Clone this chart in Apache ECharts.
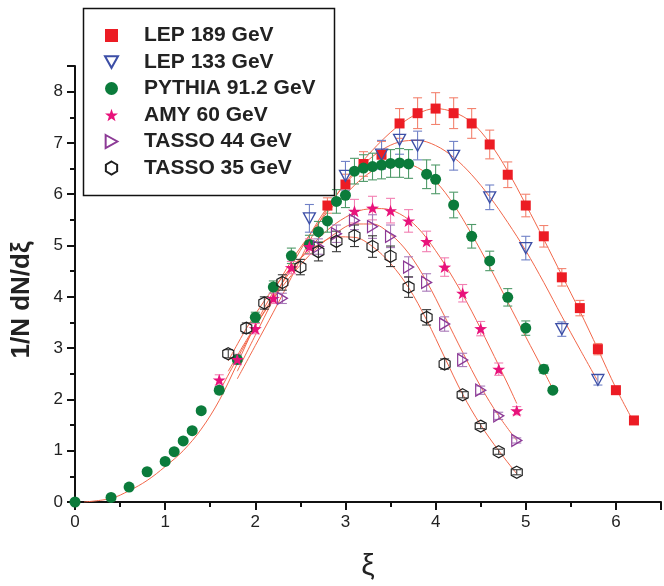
<!DOCTYPE html>
<html>
<head>
<meta charset="utf-8">
<script src="https://cdn.jsdelivr.net/npm/echarts@6/dist/echarts.min.js"></script>
<style>
html,body{margin:0;padding:0;background:#fff;}
#chart{width:664px;height:586px;}
</style>
</head>
<body>
<div id="chart"></div>
<script>
// ---------- data ----------
const seriesNames = ['LEP 189 GeV','LEP 133 GeV','PYTHIA 91.2 GeV','AMY 60 GeV','TASSO 44 GeV','TASSO 35 GeV'];

const lep189X   = [2.8,3.0,3.2,3.4,3.6,3.8,4.0,4.2,4.4,4.6,4.8,5.0,5.2,5.4,5.6,5.8,6.0,6.2];
const lep189Y   = [5.78,6.19,6.59,6.77,7.38,7.58,7.67,7.58,7.38,6.97,6.38,5.78,5.18,4.38,3.78,2.98,2.18,1.59];
const lep189Err = [0.15,0.2,0.24,0.26,0.29,0.3,0.31,0.3,0.29,0.28,0.25,0.22,0.21,0.17,0.15,0.11,0.06,0.03];

const lep133X   = [2.6,3.0,3.4,3.6,3.8,4.2,4.6,5.0,5.4,5.8];
const lep133Y   = [5.53,6.36,6.77,7.06,6.95,6.75,5.94,4.95,3.37,2.38];
const lep133Err = [0.27,0.28,0.28,0.28,0.28,0.28,0.24,0.23,0.14,0.1];

const pythiaX   = [0,0.4,0.6,0.8,1.0,1.1,1.2,1.3,1.4,1.6,1.8,2.0,2.2,2.4,2.6,2.7,2.8,2.9,3.0,3.1,3.2,3.3,3.4,3.5,3.6,3.7,3.9,4.0,4.2,4.4,4.6,4.8,5.0,5.2,5.3];
const pythiaY   = [0.0,0.09,0.29,0.59,0.79,0.98,1.19,1.39,1.78,2.18,2.78,3.6,4.19,4.8,5.02,5.27,5.48,5.86,5.98,6.45,6.51,6.54,6.57,6.6,6.61,6.59,6.39,6.29,5.79,5.18,4.7,3.99,3.39,2.59,2.18];
const pythiaErr = [0,0.02,0.02,0.03,0.03,0.03,0.04,0.04,0.05,0.07,0.09,0.1,0.12,0.15,0.18,0.2,0.22,0.23,0.24,0.25,0.26,0.26,0.27,0.27,0.28,0.28,0.28,0.28,0.25,0.23,0.19,0.17,0.14,0.08,0.05];

const amyX   = [1.6,1.8,2.0,2.2,2.4,2.6,3.1,3.3,3.5,3.7,3.9,4.1,4.3,4.5,4.7,4.9];
const amyY   = [2.38,2.78,3.38,3.97,4.57,4.98,5.67,5.73,5.68,5.48,5.08,4.58,4.07,3.38,2.59,1.78];
const amyErr = [0.1,0.1,0.1,0.1,0.12,0.15,0.23,0.23,0.24,0.22,0.2,0.18,0.17,0.14,0.12,0.08];

const tasso44X   = [2.3,2.7,2.9,3.1,3.3,3.5,3.7,3.9,4.1,4.3,4.5,4.7,4.9];
const tasso44Y   = [3.97,4.98,5.23,5.49,5.37,5.18,4.58,4.28,3.47,2.77,2.18,1.68,1.2];
const tasso44Err = [0.1,0.15,0.17,0.18,0.23,0.22,0.2,0.17,0.14,0.13,0.08,0.07,0.05];

const tasso35X   = [1.7,1.9,2.1,2.3,2.5,2.7,2.9,3.1,3.3,3.5,3.7,3.9,4.1,4.3,4.5,4.7,4.9];
const tasso35Y   = [2.89,3.39,3.88,4.28,4.58,4.88,5.08,5.19,4.98,4.79,4.19,3.6,2.69,2.09,1.48,0.98,0.58];
const tasso35Err = [0.08,0.1,0.12,0.15,0.15,0.18,0.2,0.21,0.21,0.2,0.2,0.15,0.1,0.06,0.05,0.05,0.05];

// fitted curves, values
const lep189FitX = [1.8,2.0,2.2,2.4,2.6,2.8,3.0,3.2,3.4,3.6,3.8,4.0,4.2,4.4,4.6,4.8,5.0,5.2,5.4,5.6,5.8,6.0,6.2];
const lep189FitY = [2.4,3.05,3.7,4.38,5.08,5.72,6.22,6.66,7.04,7.35,7.57,7.67,7.6,7.4,7.0,6.45,5.8,5.12,4.42,3.72,2.98,2.22,1.55];
const lep133FitX = [1.8,2.0,2.2,2.4,2.6,2.8,3.0,3.2,3.4,3.6,3.8,4.0,4.2,4.4,4.6,4.8,5.0,5.2,5.4,5.6,5.8];
const lep133FitY = [2.55,3.25,3.95,4.6,5.2,5.75,6.2,6.58,6.86,7.02,7.05,6.95,6.72,6.38,5.95,5.45,4.9,4.28,3.62,2.98,2.35];
const pythiaFitX = [0.1,0.4,0.6,0.8,1.0,1.2,1.4,1.6,1.8,2.0,2.2,2.4,2.6,2.8,3.0,3.2,3.4,3.6,3.8,4.0,4.2,4.4,4.6,4.8,5.0,5.2,5.3];
const pythiaFitY = [0,0.07,0.22,0.42,0.69,1.0,1.42,1.98,2.7,3.45,4.1,4.7,5.2,5.65,6.0,6.33,6.55,6.62,6.52,6.25,5.8,5.22,4.58,3.9,3.22,2.55,2.2];
const amyFitX = [1.6,1.8,2.0,2.2,2.4,2.6,2.8,3.0,3.2,3.4,3.6,3.8,4.0,4.2,4.4,4.6,4.8,4.9];
const amyFitY = [2.15,2.8,3.42,4.0,4.52,4.95,5.3,5.55,5.7,5.72,5.62,5.35,4.9,4.35,3.72,3.02,2.3,1.92];
const tasso44FitX = [1.7,1.9,2.1,2.3,2.5,2.7,2.9,3.1,3.3,3.5,3.7,3.9,4.1,4.3,4.5,4.7,4.9];
const tasso44FitY = [2.55,3.15,3.7,4.2,4.62,4.98,5.25,5.42,5.42,5.22,4.85,4.3,3.62,2.92,2.25,1.68,1.2];
const tasso35FitX = [1.7,1.9,2.1,2.3,2.5,2.7,2.9,3.1,3.3,3.5,3.7,3.9,4.1,4.3,4.5,4.7,4.9];
const tasso35FitY = [2.75,3.38,3.92,4.38,4.75,5.02,5.17,5.16,4.98,4.65,4.18,3.55,2.82,2.1,1.5,1.0,0.55];

const xTicks = [0,1,2,3,4,5,6];
const yTicks = [0,1,2,3,4,5,6,7,8];

// ---------- styling ----------
const SYM = {
  square: 'rect',
  circle: 'circle',
  triDown: 'path://M0,0 L10,0 L5,9 Z',
  triRight: 'path://M0,0 L9,5 L0,10 Z',
  star: 'path://M50,0 L61.76,33.82 L97.55,34.55 L69.02,56.18 L79.39,90.45 L50,70 L20.61,90.45 L30.98,56.18 L2.45,34.55 L38.24,33.82 Z',
  hex: 'path://M5,0 L9.33,2.5 L9.33,7.5 L5,10 L0.67,7.5 L0.67,2.5 Z'
};
const styles = [
  {sym: SYM.square,   size: [10,10], fill: '#ec1c24', stroke: '#ec1c24', bar: '#f3836f', bw: 0},
  {sym: SYM.triDown,  size: [12,11], fill: 'rgba(255,255,255,0)', stroke: '#3c4ea6', bar: '#6f80c6', bw: 1.3},
  {sym: SYM.circle,   size: [11,11], fill: '#0b7b3b', stroke: '#0b7b3b', bar: '#4f9a69', bw: 0},
  {sym: SYM.star,     size: [13,12], fill: '#e8127b', stroke: '#e8127b', bar: '#f27fb2', bw: 0},
  {sym: SYM.triRight, size: [10,12], fill: 'rgba(255,255,255,0)', stroke: '#8c3a96', bar: '#a878b8', bw: 1.3},
  {sym: SYM.hex,      size: [11,12], fill: 'rgba(255,255,255,0)', stroke: '#1e1e1e', bar: '#3a3a3a', bw: 1.2}
];
const FIT_COLOR = '#f2674a';

const pts = [
  [lep189X, lep189Y, lep189Err],
  [lep133X, lep133Y, lep133Err],
  [pythiaX, pythiaY, pythiaErr],
  [amyX, amyY, amyErr],
  [tasso44X, tasso44Y, tasso44Err],
  [tasso35X, tasso35Y, tasso35Err]
];
const fits = [
  [lep189FitX, lep189FitY],
  [lep133FitX, lep133FitY],
  [pythiaFitX, pythiaFitY],
  [amyFitX, amyFitY],
  [tasso44FitX, tasso44FitY],
  [tasso35FitX, tasso35FitY]
];

function zip2(a, b) { return a.map((v, i) => [v, b[i]]); }

function errRenderer(color) {
  return function (params, api) {
    const x = api.value(0), lo = api.value(1), hi = api.value(2);
    const p1 = api.coord([x, lo]);
    const p2 = api.coord([x, hi]);
    const w = 4.5;
    const st = {stroke: color, lineWidth: 1.1};
    return {
      type: 'group',
      children: [
        {type: 'line', shape: {x1: p1[0], y1: p1[1], x2: p2[0], y2: p2[1]}, style: st},
        {type: 'line', shape: {x1: p1[0] - w, y1: p1[1], x2: p1[0] + w, y2: p1[1]}, style: st},
        {type: 'line', shape: {x1: p2[0] - w, y1: p2[1], x2: p2[0] + w, y2: p2[1]}, style: st}
      ]
    };
  };
}

const series = [];
fits.forEach((f, i) => {
  series.push({
    type: 'line', name: 'fit' + i, data: zip2(f[0], f[1]), smooth: 0.35,
    showSymbol: false, symbol: 'none', silent: true, z: 1,
    lineStyle: {color: FIT_COLOR, width: 1}
  });
});
pts.forEach((p, i) => {
  series.push({
    type: 'custom', name: 'err' + i, silent: true, z: 2,
    data: p[0].map((x, k) => [x, p[1][k] - p[2][k], p[1][k] + p[2][k]]),
    encode: {x: 0, y: [1, 2]},
    renderItem: errRenderer(styles[i].bar)
  });
});
pts.forEach((p, i) => {
  const s = styles[i];
  series.push({
    type: 'scatter', name: seriesNames[i], data: zip2(p[0], p[1]), z: 3 + i,
    symbol: s.sym, symbolSize: s.size,
    itemStyle: {color: s.fill, borderColor: s.stroke, borderWidth: s.bw, opacity: 1}
  });
});

const chart = echarts.init(document.getElementById('chart'), null, {renderer: 'canvas'});
const FONT = 'Liberation Sans, Arial, Helvetica, sans-serif';
chart.setOption({
  animation: false,
  backgroundColor: '#ffffff',
  grid: {left: 75, right: -3, top: 66, bottom: 84, containLabel: false},
  xAxis: {
    type: 'value', min: 0, max: 6.5, interval: 1,
    axisLine: {show: true, lineStyle: {color: '#111', width: 2}},
    axisTick: {show: true, inside: false, length: 8, lineStyle: {color: '#111', width: 2}},
    minorTick: {show: true, splitNumber: 2, length: 5, lineStyle: {color: '#111', width: 2}},
    splitLine: {show: false},
    axisLabel: {
      color: '#222', fontFamily: FONT, fontSize: 17, margin: 12,
      formatter: v => (xTicks.indexOf(v) >= 0 ? String(v) : '')
    }
  },
  yAxis: {
    type: 'value', min: 0, max: 8.5, interval: 1,
    axisLine: {show: true, lineStyle: {color: '#111', width: 2}},
    axisTick: {show: true, inside: false, length: 8, lineStyle: {color: '#111', width: 2}},
    minorTick: {show: true, splitNumber: 2, length: 5, lineStyle: {color: '#111', width: 2}},
    splitLine: {show: false},
    axisLabel: {
      color: '#222', fontFamily: FONT, fontSize: 17, margin: 12,
      formatter: v => (yTicks.indexOf(v) >= 0 ? String(v) : '')
    }
  },
  legend: {
    data: seriesNames,
    orient: 'vertical', left: 99, top: 20,
    itemWidth: 13, itemHeight: 13, itemGap: 5.5,
    textStyle: {color: '#222', fontFamily: FONT, fontSize: 21, fontWeight: 'bold', padding: [0, 0, 0, 21]},
    selectedMode: false
  },
  graphic: [
    {type: 'rect', left: 81, top: 6, z: 100, silent: true,
     shape: {width: 251, height: 187},
     style: {fill: 'none', stroke: '#111', lineWidth: 1.5}},
    {type: 'text', x: 22, y: 300, rotation: Math.PI / 2, z: 100,
     style: {text: '1/N dN/dξ', fill: '#222', font: 'bold 26px ' + FONT, align: 'center', verticalAlign: 'middle'}},
    {type: 'text', x: 368, y: 567, z: 100,
     style: {text: 'ξ', fill: '#222', font: '30px ' + FONT, align: 'center', verticalAlign: 'middle'}}
  ],
  series: series
});
</script>
</body>
</html>
